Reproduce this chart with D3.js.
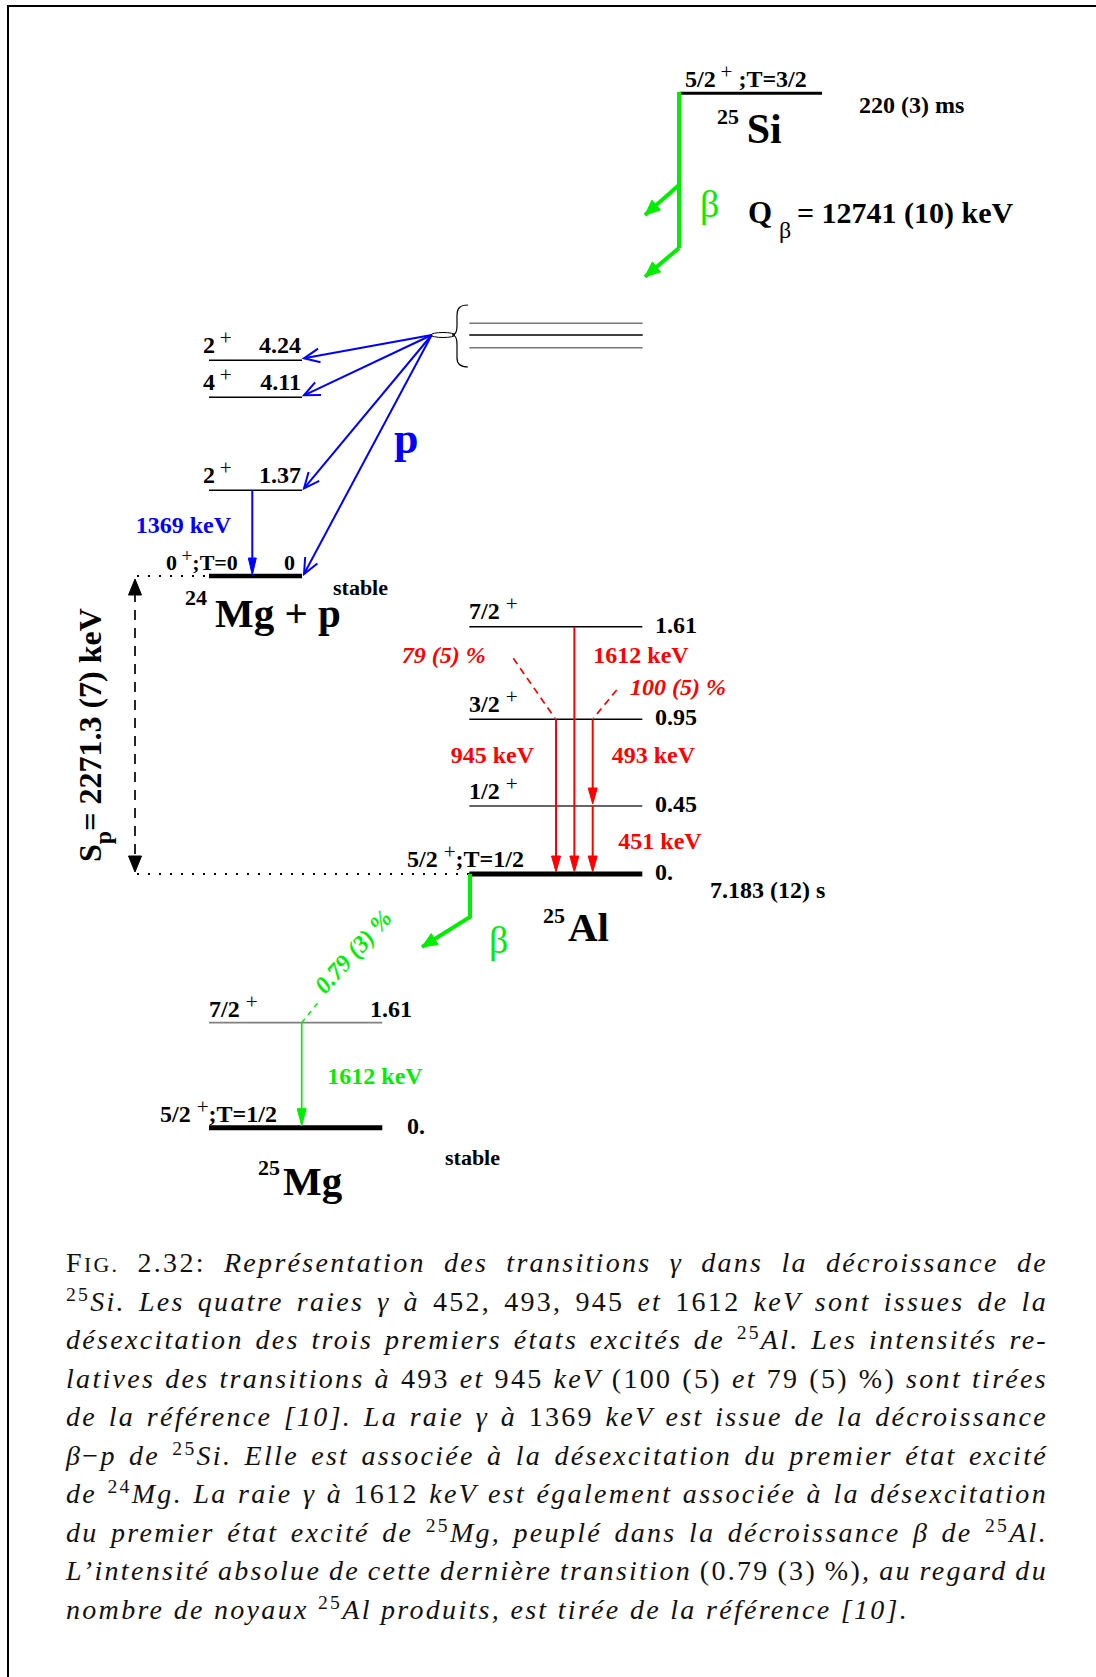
<!DOCTYPE html>
<html><head><meta charset="utf-8">
<script src="https://cdn.jsdelivr.net/npm/d3@7"></script>
<style>body{margin:0;background:#fff} svg{display:block}</style>
</head><body>
<script>
// ---------------- data ----------------
const si25State = {J:"5/2", P:"+", iso:";T=3/2"};
const si25HalfLife = "220 (3) ms";
const si25Q = "= 12741 (10) keV";
const mg24Levels = [
  {E:0,    J:"0", P:"+", iso:";T=0", label:"0"},
  {E:1.37, J:"2", P:"+", label:"1.37"},
  {E:4.11, J:"4", P:"+", label:"4.11"},
  {E:4.24, J:"2", P:"+", label:"4.24"}
];
const mg24Gamma = {from:1.37, to:0, label:"1369 keV"};
const protonFeeds = [4.24, 4.11, 1.37, 0];
const al25Levels = [
  {E:0,    J:"5/2", P:"+", iso:";T=1/2", label:"0."},
  {E:0.45, J:"1/2", P:"+", label:"0.45"},
  {E:0.95, J:"3/2", P:"+", label:"0.95"},
  {E:1.61, J:"7/2", P:"+", label:"1.61"}
];
const al25Gammas = [
  {id:"945",  from:0.95, to:0,    label:"945 keV"},
  {id:"1612", from:1.61, to:0,    label:"1612 keV"},
  {id:"493",  from:0.95, to:0.45, label:"493 keV"},
  {id:"451",  from:0.45, to:0,    label:"451 keV"}
];
const al25Intensities = [{id:"945", label:"79 (5) %"}, {id:"493", label:"100 (5) %"}];
const al25HalfLife = "7.183 (12) s";
const mg25Levels = [
  {E:0,    J:"5/2", P:"+", iso:";T=1/2", label:"0."},
  {E:1.61, J:"7/2", P:"+", label:"1.61"}
];
const mg25Gamma = {from:1.61, to:0, label:"1612 keV"};
const mg25Feed = "0.79 (3) %";
const sepEnergy = "2271.3 (7) keV";
const captionLines = [
  [["r","F"],["rs","IG."],["r"," 2.32: "],["i","Représentation des transitions γ dans la décroissance de"]],
  [["sup","25"],["i","Si. Les quatre raies γ à "],["r","452, 493, 945"],["i"," et "],["r","1612 "],["i","keV sont issues de la"]],
  [["i","désexcitation des trois premiers états excités de "],["sup","25"],["i","Al. Les intensités re-"]],
  [["i","latives des transitions à "],["r","493"],["i"," et "],["r","945 "],["i","keV "],["r","(100 (5)"],["i"," et "],["r","79 (5) %)"],["i"," sont tirées"]],
  [["i","de la référence [10]. La raie γ à "],["r","1369 "],["i","keV est issue de la décroissance"]],
  [["i","β"],["r","−"],["i","p de "],["sup","25"],["i","Si. Elle est associée à la désexcitation du premier état excité"]],
  [["i","de "],["sup","24"],["i","Mg. La raie γ à "],["r","1612 "],["i","keV est également associée à la désexcitation"]],
  [["i","du premier état excité de "],["sup","25"],["i","Mg, peuplé dans la décroissance β de "],["sup","25"],["i","Al."]],
  [["i","L’intensité absolue de cette dernière transition "],["r","(0.79 (3) %)"],["i",", au regard du"]],
  [["i","nombre de noyaux "],["sup","25"],["i","Al produits, est tirée de la référence [10]."]]
];

// ---------------- layout ----------------
const W = 1096, H = 1677;
const FONT = "'Liberation Serif','Times New Roman',serif";
const CAPFONT = "'Liberation Serif',serif";
const GREEN = "#00ee00", RED = "#ff0000", BLUE = "#0000ff";
const svg = d3.select("body").append("svg").attr("width", W).attr("height", H)
  .attr("font-family", FONT);
svg.append("rect").attr("width", W).attr("height", H).attr("fill", "#fff");
// frame
svg.append("path").attr("d", d3.line()([[8, H], [8, 6], [W, 6]]))
  .attr("fill", "none").attr("stroke", "#000").attr("stroke-width", 2);

const yMg24 = d3.scaleLinear().domain([0, 1.37, 4.11, 4.24]).range([576, 490.3, 397.3, 360.3]);
const yAl = d3.scaleLinear().domain([0, 0.45, 0.95, 1.61]).range([874, 806, 719.3, 626.7]);
const yMg25 = d3.scaleLinear().domain([0, 1.61]).range([1127.7, 1022.7]);
const xAlGamma = d3.scalePoint().domain(["945", "1612", "493"]).range([556, 592.7]);
const xMg24 = [209, 302], xAl = [469.3, 642.3], xMg25 = [209, 382.3], xSi = [680, 822];

function filledHead(g, tip, from, len, wid, color) {
  const dx = tip[0] - from[0], dy = tip[1] - from[1], L = Math.hypot(dx, dy);
  const ux = dx / L, uy = dy / L, px = -uy, py = ux;
  const bx = tip[0] - ux * len, by = tip[1] - uy * len;
  g.append("path").attr("d", d3.line()([[tip[0], tip[1]], [bx + px * wid / 2, by + py * wid / 2], [bx - px * wid / 2, by - py * wid / 2]]) + "Z")
    .attr("fill", color).attr("stroke", color).attr("stroke-width", 1);
}
function openHead(g, tip, from, len, ang, color) {
  const a = Math.atan2(from[1] - tip[1], from[0] - tip[0]);
  const p1 = [tip[0] + len * Math.cos(a + ang), tip[1] + len * Math.sin(a + ang)];
  const p2 = [tip[0] + len * Math.cos(a - ang), tip[1] + len * Math.sin(a - ang)];
  g.append("path").attr("d", d3.line()([p1, tip, p2])).attr("fill", "none")
    .attr("stroke", color).attr("stroke-width", 2);
}
function spinLabel(g, x, y, lev, gap, size) {
  const t = g.append("text").attr("x", x).attr("y", y).attr("font-weight", "bold")
    .attr("font-size", size).style("white-space", "pre");
  t.append("tspan").text(lev.J + (gap ? " " : "\u2009"));
  t.append("tspan").attr("dy", -8).attr("font-size", size * 0.88).attr("font-weight", "normal").text(lev.P);
  t.append("tspan").attr("dy", 8).text(lev.iso || "");
  return t;
}
function boldText(g, x, y, str, size, color, anchor) {
  return g.append("text").attr("x", x).attr("y", y).attr("font-weight", "bold")
    .attr("font-size", size).attr("fill", color || "#000").attr("text-anchor", anchor || "start").text(str);
}

const G = svg.append("g");

// ---------- 25Si ----------
G.append("line").attr("x1", xSi[0]).attr("x2", xSi[1]).attr("y1", 93.3).attr("y2", 93.3)
  .attr("stroke", "#000").attr("stroke-width", 3);
spinLabel(G, 685, 87, si25State, false, 24).select("tspan:last-child").text(" " + si25State.iso);
boldText(G, 859, 112.7, si25HalfLife, 24);
boldText(G, 717, 124, "25", 22);
boldText(G, 746.7, 143.3, "Si", 42);
// beta branch
G.append("line").attr("x1", 679).attr("x2", 679).attr("y1", 92).attr("y2", 248)
  .attr("stroke", GREEN).attr("stroke-width", 4);
[[[679, 185], [645, 215]], [[679, 248], [645, 276.7]]].forEach(([a, b]) => {
  G.append("line").attr("x1", a[0]).attr("y1", a[1]).attr("x2", b[0]).attr("y2", b[1])
    .attr("stroke", GREEN).attr("stroke-width", 4);
  filledHead(G, b, a, 15, 13, GREEN);
});
G.append("text").attr("x", 700).attr("y", 217).attr("font-size", 38).attr("fill", GREEN).text("β");
boldText(G, 748, 223, "Q", 31);
G.append("text").attr("x", 779).attr("y", 238).attr("font-size", 24).text("β");
boldText(G, 797, 223, si25Q, 30);

// ---------- 24Mg + p ----------
mg24Levels.forEach(l => {
  const y = yMg24(l.E);
  G.append("line").attr("x1", xMg24[0]).attr("x2", xMg24[1]).attr("y1", y).attr("y2", y)
    .attr("stroke", "#000").attr("stroke-width", l.E === 0 ? 4.5 : 1.5);
  if (l.E === 0) {
    spinLabel(G, 166, y - 6, l, false, 22);
    boldText(G, 295, y - 6, l.label, 22, "#000", "end");
  } else {
    spinLabel(G, 203, y - 7, l, false, 24);
    boldText(G, 301, y - 7, l.label, 24, "#000", "end");
  }
});
boldText(G, 333, 595, "stable", 22);
boldText(G, 185, 605, "24", 22);
boldText(G, 215, 627, "Mg + p", 41);
// 1369 keV gamma
{
  const x = 252.3, y1 = yMg24(mg24Gamma.from), y2 = yMg24(mg24Gamma.to);
  G.append("line").attr("x1", x).attr("x2", x).attr("y1", y1).attr("y2", y2 - 10)
    .attr("stroke", BLUE).attr("stroke-width", 2);
  filledHead(G, [x, y2 - 1], [x, y1], 17, 8, BLUE);
  boldText(G, 231, 533, mg24Gamma.label, 24, BLUE, "end");
}
// proton branches
const pOrigin = [431.7, 335];
protonFeeds.forEach(E => {
  const tip = [304, yMg24(E) - 2];
  G.append("line").attr("x1", pOrigin[0]).attr("y1", pOrigin[1]).attr("x2", tip[0]).attr("y2", tip[1])
    .attr("stroke", BLUE).attr("stroke-width", 2);
  openHead(G, tip, pOrigin, 17, 0.42, BLUE);
});
boldText(G, 394, 453, "p", 44, BLUE);
// brace and unresolved levels
G.append("ellipse").attr("cx", 443).attr("cy", 335).attr("rx", 12).attr("ry", 2.5)
  .attr("fill", "none").attr("stroke", "#000").attr("stroke-width", 1);
G.append("path").attr("d", "M468,305 C460,305 457,308 457,316 L457,326 C457,332 456,335 452,335 C456,335 457,338 457,344 L457,358 C457,364 460,367 468,367")
  .attr("fill", "none").attr("stroke", "#000").attr("stroke-width", 1.2);
[[323.3, "#777"], [335, "#000"], [347.7, "#777"]].forEach(([y, c]) => {
  G.append("line").attr("x1", 469.3).attr("x2", 642.7).attr("y1", y).attr("y2", y)
    .attr("stroke", c).attr("stroke-width", 1.5);
});

// ---------- Sp ----------
G.append("line").attr("x1", 137).attr("x2", xMg24[0]).attr("y1", yMg24(0)).attr("y2", yMg24(0))
  .attr("stroke", "#000").attr("stroke-width", 2).attr("stroke-dasharray", "2,9");
G.append("line").attr("x1", 137).attr("x2", xAl[0]).attr("y1", yAl(0)).attr("y2", yAl(0))
  .attr("stroke", "#000").attr("stroke-width", 2).attr("stroke-dasharray", "2,9");
G.append("line").attr("x1", 135).attr("x2", 135).attr("y1", 592).attr("y2", 858)
  .attr("stroke", "#000").attr("stroke-width", 1.7).attr("stroke-dasharray", "10,8");
filledHead(G, [135, 579], [135, 700], 16, 13, "#000");
filledHead(G, [135, 872], [135, 700], 16, 13, "#000");
{
  const t = G.append("text").attr("transform", "translate(101,862) rotate(-90)")
    .attr("font-weight", "bold").attr("font-size", 32).style("white-space", "pre");
  t.append("tspan").text("S");
  t.append("tspan").attr("dy", 10).attr("font-size", 24).text("p");
  t.append("tspan").attr("dy", -10).text("= " + sepEnergy);
}

// ---------- 25Al ----------
al25Levels.forEach(l => {
  const y = yAl(l.E);
  G.append("line").attr("x1", xAl[0]).attr("x2", xAl[1]).attr("y1", y).attr("y2", y)
    .attr("stroke", l.E === 0.45 ? "#333" : "#000").attr("stroke-width", l.E === 0 ? 5 : 1.5);
  if (l.E === 0) {
    spinLabel(G, 407, y - 7, l, true, 24);
    boldText(G, 655, y + 6, l.label, 24);
  } else {
    spinLabel(G, 469, y - 7.5, l, true, 24);
    boldText(G, 655, y + 6, l.label, 24);
  }
});
boldText(G, 710, 898, al25HalfLife, 24);
boldText(G, 543, 923, "25", 22);
boldText(G, 568, 941, "Al", 41);
al25Gammas.forEach(gm => {
  const x = xAlGamma(gm.id === "451" ? "493" : gm.id);
  const y1 = yAl(gm.from), y2 = yAl(gm.to);
  G.append("line").attr("x1", x).attr("x2", x).attr("y1", y1).attr("y2", y2 - 8)
    .attr("stroke", RED).attr("stroke-width", 2);
  filledHead(G, [x, y2 - 2], [x, y1], 16, 9, RED);
});
// gamma labels
const redLab = {"945": [450.7, 762.7], "1612": [593.3, 663.3], "493": [611.7, 762.7], "451": [618.3, 849.3]};
al25Gammas.forEach(gm => boldText(G, redLab[gm.id][0], redLab[gm.id][1], gm.label, 24, RED));
// intensity dashes and labels
const intLab = {"945": {seg: [[513.3, 658.3], [555, 718.3]], pos: [401.7, 663.3]},
                "493": {seg: [[616.7, 690], [593.3, 718.3]], pos: [630, 695]}};
al25Intensities.forEach(it => {
  const s = intLab[it.id];
  G.append("line").attr("x1", s.seg[0][0]).attr("y1", s.seg[0][1]).attr("x2", s.seg[1][0]).attr("y2", s.seg[1][1])
    .attr("stroke", RED).attr("stroke-width", 1.7).attr("stroke-dasharray", "7,5");
  boldText(G, s.pos[0], s.pos[1], it.label, 24, RED).attr("font-style", "italic");
});
// beta to 25Mg
{
  const pts = [[470, yAl(0)], [470, 917], [422, 947]];
  G.append("path").attr("d", d3.line()(pts)).attr("fill", "none").attr("stroke", GREEN).attr("stroke-width", 4);
  filledHead(G, pts[2], pts[1], 15, 13, GREEN);
  G.append("text").attr("x", 489).attr("y", 953).attr("font-size", 38).attr("fill", GREEN).text("β");
}

// ---------- 25Mg ----------
mg25Levels.forEach(l => {
  const y = yMg25(l.E);
  G.append("line").attr("x1", xMg25[0]).attr("x2", xMg25[1]).attr("y1", y).attr("y2", y)
    .attr("stroke", l.E === 0 ? "#000" : "#808080").attr("stroke-width", l.E === 0 ? 5 : 1.7);
  if (l.E === 0) {
    spinLabel(G, 160, y - 6, l, true, 24);
    boldText(G, 407, y + 6, l.label, 24);
  } else {
    spinLabel(G, 209, y - 6, l, true, 24);
    boldText(G, 370, y - 6, l.label, 24);
  }
});
boldText(G, 445, 1165, "stable", 22);
boldText(G, 258, 1175, "25", 22);
boldText(G, 283, 1195, "Mg", 41);
{
  const x = 301.7, y1 = yMg25(mg25Gamma.from), y2 = yMg25(mg25Gamma.to);
  G.append("line").attr("x1", x).attr("x2", x).attr("y1", y1).attr("y2", y2 - 8)
    .attr("stroke", GREEN).attr("stroke-width", 1.7);
  filledHead(G, [x, y2 - 2], [x, y1], 17, 9, GREEN);
  boldText(G, 327.3, 1084, mg25Gamma.label, 24, GREEN);
  G.append("line").attr("x1", x).attr("y1", y1).attr("x2", 320).attr("y2", 1000)
    .attr("stroke", GREEN).attr("stroke-width", 1.5).attr("stroke-dasharray", "5,5");
  G.append("text").attr("transform", "translate(325,995) rotate(-48)")
    .attr("font-size", 24).attr("font-style", "italic").attr("font-weight", "bold").attr("fill", GREEN).text(mg25Feed);
}

// ---------------- caption ----------------
const capX0 = 66, capX1 = 1048, capY0 = 1272, capDY = 38.5, capFS = 28, lastW = 843;
const capG = svg.append("g").attr("font-family", CAPFONT).attr("font-size", capFS).attr("fill", "#111");
function renderLine(runs, y) {
  const t = capG.append("text").attr("x", capX0).attr("y", y).style("white-space", "pre");
  let off = 0;
  runs.forEach(([s, str]) => {
    const ts = t.append("tspan").text(str);
    if (s === "sup") {
      ts.attr("dy", -10 - off).attr("font-size", capFS * 0.7).attr("font-style", "normal");
      off = -10;
    } else {
      if (off !== 0) { ts.attr("dy", -off); off = 0; }
      ts.attr("font-style", s === "i" ? "italic" : "normal");
      if (s === "rs") ts.attr("font-size", capFS * 0.78);
    }
  });
  return t;
}
const texts = captionLines.map((runs, i) => renderLine(runs, capY0 + i * capDY));
const last = texts[texts.length - 1];
const nChars = captionLines[captionLines.length - 1].map(r => r[1]).join("").length;
const ls = (lastW - last.node().getComputedTextLength()) / nChars;
texts.forEach(t => t.style("letter-spacing", ls + "px"));
texts.forEach((t, i) => {
  if (i === texts.length - 1) return;
  const str = captionLines[i].map(r => r[1]).join("");
  const nSp = (str.match(/ /g) || []).length;
  const w = t.node().getComputedTextLength();
  t.style("word-spacing", ((capX1 - capX0 - w) / nSp) + "px");
});
</script>
</body></html>
